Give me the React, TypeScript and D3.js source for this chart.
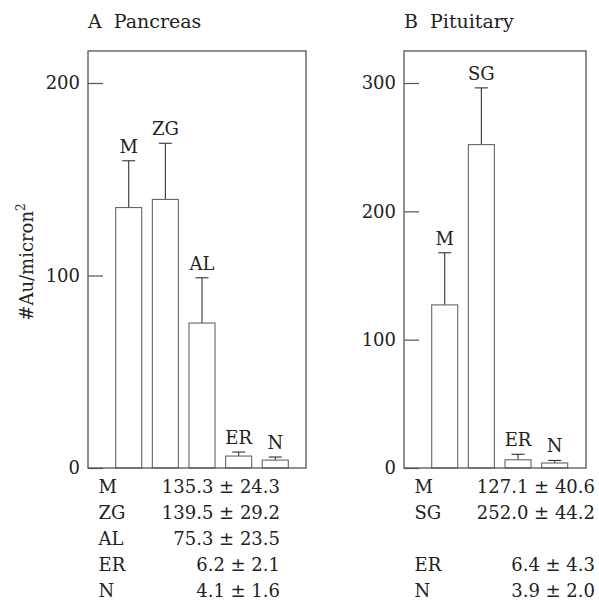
import * as d3 from "d3";
import React, { useRef, useEffect } from "react";

// Panel A: pancreas
const catsA = ["M", "ZG", "AL", "ER", "N"];
const meanA = [135.3, 139.5, 75.3, 6.2, 4.1];
const errA = [24.3, 29.2, 23.5, 2.1, 1.6];
const ticksA = [0, 100, 200];

// Panel B: pituitary
const catsB = ["M", "SG", "ER", "N"];
const meanB = [127.1, 252.0, 6.4, 3.9];
const errB = [40.6, 44.2, 4.3, 2.0];
const ticksB = [0, 100, 200, 300];
// table rows for B (blank row between SG and ER)
const tableRowsB = ["M", "SG", "", "ER", "N"];

const FONT = "DejaVu Serif";

function Panel({ title, cats, mean, err, ticks, yMax, frame, barRange, tableRows }) {
  const axisRef = useRef(null);

  const y = d3.scaleLinear().domain([0, yMax]).range([468, 83]);
  const x = d3.scaleBand().domain(cats).range(barRange).paddingInner(0.29).paddingOuter(0);

  useEffect(() => {
    const g = d3.select(axisRef.current);
    g.selectAll("*").remove();
    g.call(d3.axisLeft(y).tickValues(ticks).tickSizeInner(-15).tickSizeOuter(0).tickPadding(8).tickFormat(d3.format("d")));
    g.select(".domain").remove();
    g.selectAll(".tick line").attr("stroke", "#555").attr("stroke-width", 1.2);
    g.selectAll(".tick text")
      .attr("font-family", FONT)
      .attr("font-size", 18)
      .attr("fill", "#222");
  }, []);

  const rows = tableRows || cats;

  return (
    <g>
      <text x={frame[0]} y={28} fontFamily={FONT} fontSize={19} fill="#222" style={{ whiteSpace: "pre" }}>
        {title}
      </text>
      {cats.map((c, i) => {
        const bx = x(c);
        const cx = bx + x.bandwidth() / 2;
        const top = mean[i] + err[i];
        return (
          <g key={c}>
            <line x1={cx} x2={cx} y1={y(mean[i])} y2={y(top)} stroke="#333" strokeWidth={1.1} />
            <line x1={cx - 6.5} x2={cx + 6.5} y1={y(top)} y2={y(top)} stroke="#333" strokeWidth={1.1} />
            <rect
              x={bx}
              y={y(mean[i])}
              width={x.bandwidth()}
              height={y(0) - y(mean[i])}
              fill="#fff"
              stroke="#666"
              strokeWidth={1.1}
            />
            <text x={cx} y={y(top) - 8} textAnchor="middle" fontFamily={FONT} fontSize={18} fill="#222">
              {c}
            </text>
          </g>
        );
      })}
      <rect x={frame[0]} y={51} width={frame[1] - frame[0]} height={468 - 51} fill="none" stroke="#555" strokeWidth={1.3} />
      <g ref={axisRef} transform={`translate(${frame[0]},0)`} />
      {rows.map((c, i) => {
        if (!c) return null;
        const k = cats.indexOf(c);
        return (
          <g key={"row" + i} fontFamily={FONT} fontSize={18} fill="#222">
            <text x={frame[0] + 10.5} y={493 + i * 26}>{c}</text>
            <text x={frame[1] - frame[2]} y={493 + i * 26} textAnchor="end">
              {mean[k].toFixed(1) + " \u00b1 " + err[k].toFixed(1)}
            </text>
          </g>
        );
      })}
    </g>
  );
}

export default function App() {
  return (
    <svg width={599} height={600} style={{ position: "absolute", left: 0, top: 0, display: "block" }}>
      <rect width={599} height={600} fill="#fff" />
      <Panel
        title={"A  Pancreas"}
        cats={catsA}
        mean={meanA}
        err={errA}
        ticks={ticksA}
        yMax={200}
        frame={[88, 306, 26]}
        barRange={[115.7, 288.3]}
        tableRows={null}
      />
      <Panel
        title={"B  Pituitary"}
        cats={catsB}
        mean={meanB}
        err={errB}
        ticks={ticksB}
        yMax={300}
        frame={[404, 586, -9]}
        barRange={[431.7, 567.7]}
        tableRows={tableRowsB}
      />
      <text
        transform="translate(33,262) rotate(-90)"
        textAnchor="middle"
        fontFamily={FONT}
        fontSize={18}
        fill="#222"
      >
        #Au/micron
        <tspan dy={-8} fontSize={12}>2</tspan>
      </text>
    </svg>
  );
}
